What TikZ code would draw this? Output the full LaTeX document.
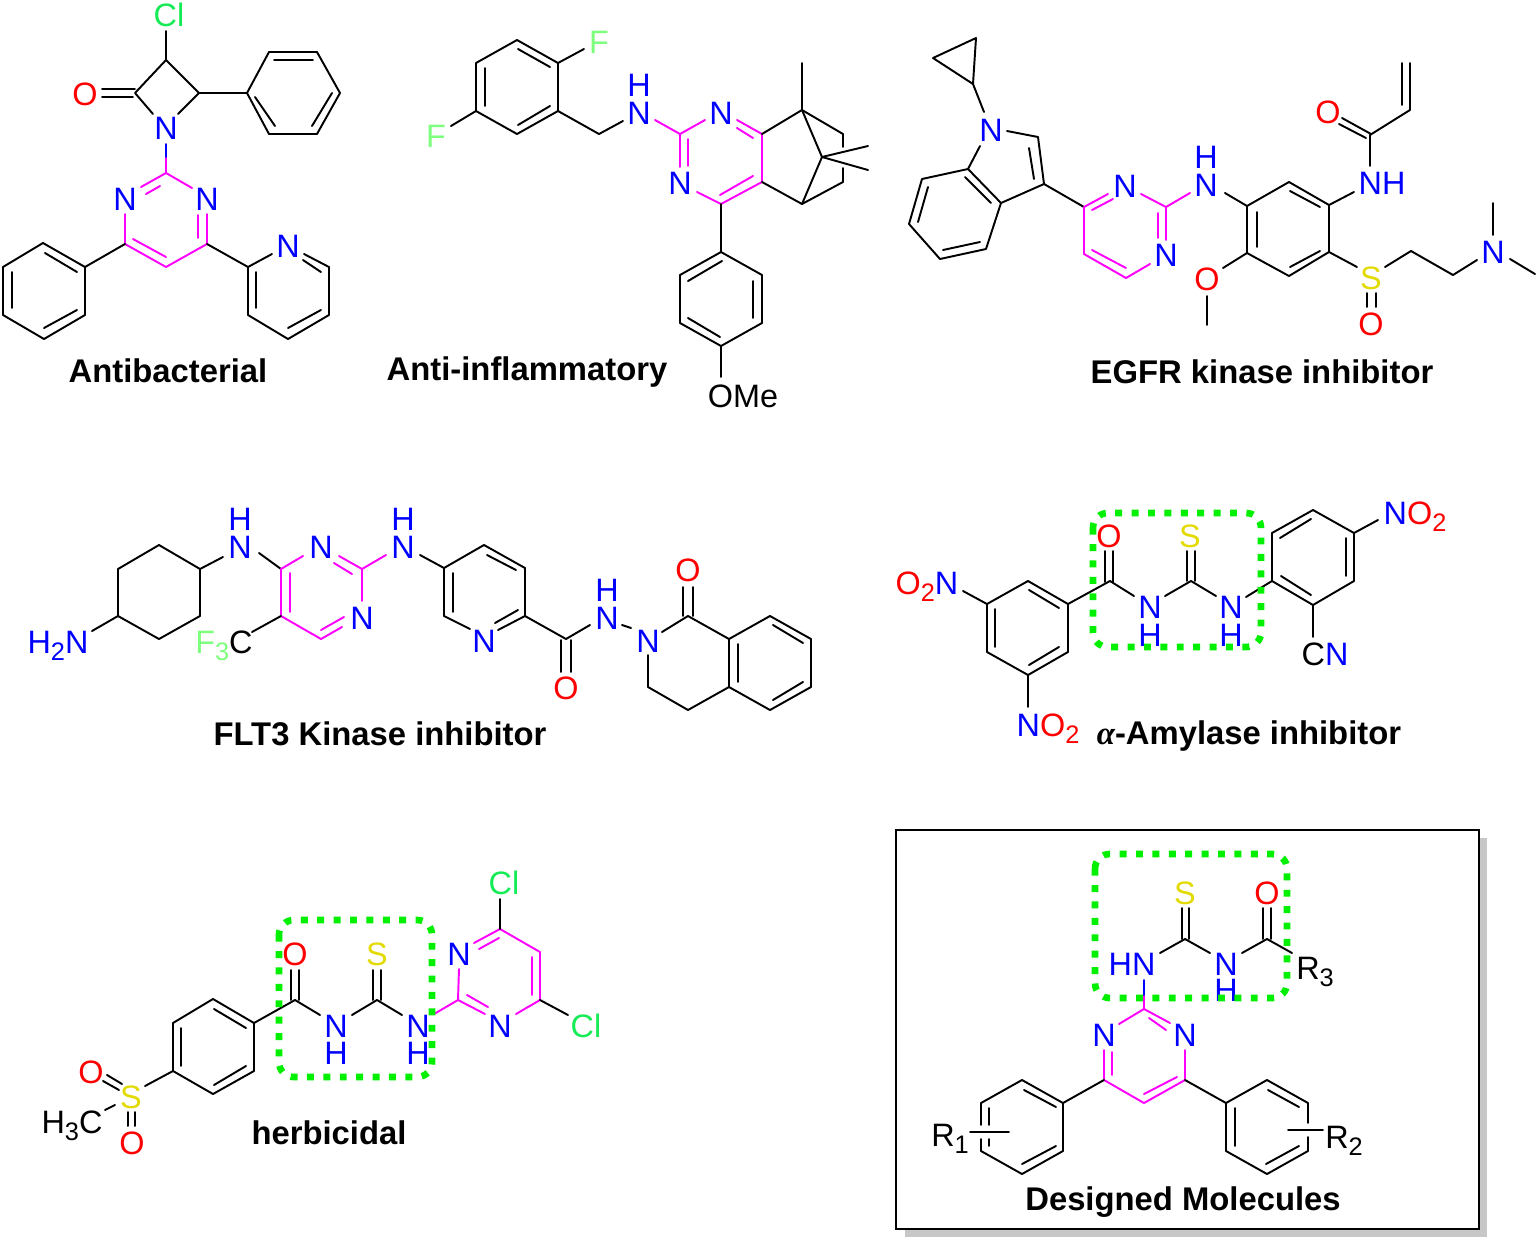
\documentclass[tikz,border=0pt]{standalone}
\usepackage{fontspec}
\setmainfont{Liberation Sans}
\definecolor{mgc}{RGB}{255,0,255}
\definecolor{nblue}{RGB}{0,0,255}
\definecolor{ored}{RGB}{255,0,0}
\definecolor{syel}{RGB}{226,218,0}
\definecolor{clg}{RGB}{20,235,85}
\definecolor{flg}{RGB}{125,255,125}
\definecolor{boxg}{RGB}{0,240,0}
\newfontfamily\serifalpha{Liberation Serif}
\newcommand{\Sbs}[1]{\raisebox{-5pt}{\fontsize{19}{19}\selectfont #1}}
\tikzset{
  bk/.style={draw=black,line width=1.45pt,line cap=round,line join=round},
  mg/.style={draw=mgc,line width=1.45pt,line cap=round,line join=round},
  bl/.style={draw=nblue,line width=1.45pt,line cap=round},
  atomK/.style={inner sep=0pt,text height=17pt,text depth=0pt,font=\fontsize{24.3}{24.3}\selectfont,text=black},
  atomN/.style={atomK,text=nblue},
  atomO/.style={atomK,text=ored},
  atomS/.style={atomK,text=syel},
  atomCl/.style={atomK,text=clg},
  atomF/.style={atomK,text=flg},
  titlenode/.style={inner sep=0pt,text height=17pt,text depth=0pt,font=\fontsize{24.6}{24.6}\selectfont\bfseries,text=black},
  greenbox/.style={draw=boxg,line width=5pt,rounded corners=11pt,dash pattern=on 5.2pt off 7.1pt}
}
\begin{document}
\begin{tikzpicture}[x=0.75pt,y=-0.75pt]
\useasboundingbox (0,0) rectangle (1536,1240);
% ===== Molecule 1: Antibacterial
\draw[bk] (166,31)--(166,60);
\draw[bk] (153,114)--(135,93)--(166,60)--(199,93)--(178,114);
\draw[bk] (102,89)--(135,89) (102,97)--(133,97);
\draw[bk] (199,93)--(247,93)--(269,52)--(317,52)--(340,93)--(317,134)--(269,134)--(247,93);
\draw[bk] (274,60)--(313,60) (332,93)--(312,126) (255,97)--(275,126);
\draw[bl] (166,144)--(166,158);
\draw[mg] (166,158)--(166,173);
\draw[mg] (141,187)--(166,173)--(192,188);
\draw[mg] (146,194)--(160,186);
\draw[mg] (125,214)--(125,244)--(166,267)--(207,244)--(207,214);
\draw[mg] (198,215)--(198,238) (133,239)--(166,257);
\draw[bk] (125,244)--(85,267)--(43,243)--(3,267)--(3,315)--(44,339)--(85,315)--(85,267);
\draw[bk] (45,253)--(77,272) (12,272)--(12,308) (44,328)--(77,310);
\draw[bk] (207,244)--(248,267)--(272,254) (304,254)--(329,267)--(329,315)--(288,339)--(248,315)--(248,267);
\draw[bk] (303,260)--(321,272) (256,272)--(256,308) (288,328)--(321,310);
\node[atomCl] (a1cl) at (169,15) {Cl};
\node[atomO] (a1o) at (85,94) {O};
\node[atomN] (a1n) at (166,128) {N};
\node[atomN] (a1n2) at (125,199) {N};
\node[atomN] (a1n3) at (207,199) {N};
\node[atomN] (a1n4) at (288,246) {N};
\node[titlenode] (t1) at (168,371) {Antibacterial};
% ===== Molecule 2: Anti-inflammatory
\draw[bk] (517,40)--(558,63)--(558,111)--(517,134)--(476,111)--(476,63)--cycle;
\draw[bk] (518,49)--(550,67) (550,106)--(518,125) (485,68)--(485,106);
\draw[bk] (558,63)--(584,49) (476,111)--(451,126);
\draw[bk] (558,111)--(599,134)--(623,121);
\draw[mg] (655,120)--(680,134)--(705,120);
\draw[mg] (737,120)--(762,134)--(762,182)--(721,204)--(697,192);
\draw[mg] (737,128)--(753,138) (720,195)--(753,176);
\draw[mg] (680,134)--(680,167) (688,139)--(688,166);
\draw[bk] (762,134)--(802,110)--(802,63);
\draw[bk] (762,182)--(802,204);
\draw[bk] (802,110)--(843,134)--(843,147);
\draw[bk] (843,168)--(843,182)--(802,204)--(822,157)--(802,110);
\draw[bk] (868,146)--(822,157)--(868,170);
\draw[bk] (721,204)--(721,252)--(762,275)--(762,323)--(721,346)--(680,323)--(680,275)--(721,252);
\draw[bk] (722,261)--(688,281) (753,281)--(753,318) (688,318)--(720,337);
\draw[bk] (721,346)--(721,377);
\node[atomF] (a2f1) at (599,42) {F};
\node[atomF] (a2f2) at (436,136) {F};
\node[atomN] (a2n) at (639,113) {N};
\node[atomN] (a2h) at (639,85) {H};
\node[atomN] (a2n2) at (721,113) {N};
\node[atomN] (a2n3) at (680,183) {N};
\node[atomK] (a2ome) at (743,396) {OMe};
\node[titlenode] (t2) at (527,369) {Anti-inflammatory};
% ===== Molecule 3: EGFR kinase inhibitor
\draw[bk] (976,38)--(933,58)--(973,84)--cycle;
\draw[bk] (973,84)--(984,112);
\draw[bk] (1007,131)--(1038,137)--(1044,184)--(1001,203)--(968,169)--(980,146);
\draw[bk] (1029,148)--(1034,179);
\draw[bk] (968,169)--(922,179)--(909,224)--(940,259)--(986,249)--(1001,203);
\draw[bk] (965,177)--(991,203) (928,187)--(918,222) (943,250)--(980,242);
\draw[bk] (1044,184)--(1084,207);
\draw[mg] (1108,194)--(1084,207)--(1084,254)--(1126,278)--(1150,264);
\draw[mg] (1092,210)--(1113,199) (1092,250)--(1126,268);
\draw[mg] (1141,194)--(1166,207)--(1166,240) (1158,213)--(1158,238);
\draw[mg] (1166,207)--(1190,193);
\draw[bk] (1225,193)--(1247,206)--(1289,182)--(1329,205)--(1329,252)--(1289,276)--(1247,253)--(1247,206);
\draw[bk] (1290,191)--(1320,207) (1257,212)--(1257,247) (1290,267)--(1320,251);
\draw[bk] (1329,205)--(1354,192) (1370,166)--(1370,135)--(1410,110)--(1410,63);
\draw[bk] (1402,63)--(1402,105);
\draw[bk] (1342,118)--(1371,134) (1339,124)--(1366,138);
\draw[bk] (1247,253)--(1223,268) (1207,296)--(1207,325);
\draw[bk] (1329,252)--(1357,267);
\draw[bk] (1367,293)--(1367,307) (1376,293)--(1376,307);
\draw[bk] (1385,267)--(1411,251)--(1453,275)--(1477,260);
\draw[bk] (1493,235)--(1493,203) (1510,259)--(1535,274);
\node[atomN] (a3n) at (991,130) {N};
\node[atomN] (a3n2) at (1125,186) {N};
\node[atomN] (a3n3) at (1166,255) {N};
\node[atomN] (a3n4) at (1206,185) {N};
\node[atomN] (a3h) at (1206,157) {H};
\node[atomN] (a3nh) at (1382,183) {NH};
\node[atomO] (a3o) at (1328,112) {O};
\node[atomO] (a3o2) at (1207,279) {O};
\node[atomS] (a3s) at (1371,278) {S};
\node[atomO] (a3o3) at (1371,324) {O};
\node[atomN] (a3n5) at (1493,252) {N};
\node[titlenode] (t3) at (1262,372) {EGFR kinase inhibitor};
% ===== Molecule 4: FLT3 Kinase inhibitor
\draw[bk] (159,545)--(200,569)--(200,616)--(159,639)--(118,616)--(118,569)--cycle;
\draw[bk] (118,616)--(92,631);
\draw[bk] (200,569)--(223,557) (259,553)--(281,569);
\draw[mg] (303,556)--(281,569)--(281,616)--(321,639)--(342,627);
\draw[mg] (339,556)--(362,569)--(362,601);
\draw[mg] (334,563)--(352,574) (290,573)--(290,612) (321,630)--(344,617);
\draw[bk] (281,616)--(252,632);
\draw[mg] (362,569)--(386,555);
\draw[bk] (420,555)--(444,568)--(484,545)--(525,568)--(525,616)--(498,630);
\draw[bk] (470,629)--(444,616)--(444,568);
\draw[bk] (487,555)--(516,570) (453,573)--(453,612) (495,623)--(518,610);
\draw[bk] (525,616)--(566,639)--(590,625);
\draw[bk] (561,640)--(561,672) (571,640)--(571,672);
\draw[bk] (622,625)--(631,628);
\draw[bk] (662,632)--(688,616)--(729,639);
\draw[bk] (683,616)--(683,587) (693,616)--(693,587);
\draw[bk] (648,655)--(648,687)--(688,710)--(729,687)--(729,639);
\draw[bk] (729,639)--(770,616)--(811,639)--(811,687)--(770,710)--(729,687);
\draw[bk] (773,625)--(803,643) (803,682)--(773,700) (738,644)--(738,682);
\node[atomN] (a4h2n) at (58,642) {H\Sbs{2}N};
\node[atomN] (a4n) at (240,547) {N};
\node[atomN] (a4h) at (240,519) {H};
\node[atomN] (a4n2) at (321,547) {N};
\node[atomN] (a4n3) at (362,618) {N};
\node[atomK] (a4cf) at (224,642) {\textcolor{flg}{F\Sbs{3}}C};
\node[atomN] (a4n4) at (403,547) {N};
\node[atomN] (a4h3) at (403,519) {H};
\node[atomN] (a4n5) at (484,641) {N};
\node[atomO] (a4o) at (566,688) {O};
\node[atomN] (a4n6) at (607,618) {N};
\node[atomN] (a4h4) at (607,590) {H};
\node[atomN] (a4n7) at (648,641) {N};
\node[atomO] (a4o2) at (688,570) {O};
\node[titlenode] (t4) at (380,734) {FLT3 Kinase inhibitor};
% ===== Molecule 5: alpha-Amylase inhibitor
\draw[bk] (1028,581)--(1068,604)--(1068,652)--(1028,675)--(987,652)--(987,604)--cycle;
\draw[bk] (1029,590)--(1059,608) (1059,647)--(1029,665) (995,609)--(995,647);
\draw[bk] (987,604)--(963,591) (1028,675)--(1028,707);
\draw[bk] (1068,604)--(1110,581)--(1134,596);
\draw[bk] (1105,582)--(1105,551) (1113,582)--(1113,551);
\draw[bk] (1165,596)--(1191,581)--(1216,596);
\draw[bk] (1187,581)--(1187,551) (1195,581)--(1195,551);
\draw[bk] (1246,597)--(1272,581)--(1272,533)--(1313,510)--(1354,533)--(1354,581)--(1313,605)--(1272,581);
\draw[bk] (1280,538)--(1311,519) (1346,538)--(1346,576) (1311,595)--(1281,576);
\draw[bk] (1354,533)--(1378,520) (1313,605)--(1313,637);
\node[atomK] (a5on) at (927,583) {\textcolor{ored}{O\Sbs{2}}\textcolor{nblue}{N}};
\node[atomK] (a5no) at (1048,725) {\textcolor{nblue}{N}\textcolor{ored}{O\Sbs{2}}};
\node[atomO] (a5o) at (1109,536) {O};
\node[atomN] (a5n) at (1150,607) {N};
\node[atomN] (a5h) at (1150,635) {H};
\node[atomS] (a5s) at (1190,536) {S};
\node[atomN] (a5n2) at (1231,607) {N};
\node[atomN] (a5h2) at (1231,635) {H};
\node[atomK] (a5no2) at (1415,513) {\textcolor{nblue}{N}\textcolor{ored}{O\Sbs{2}}};
\node[atomK] (a5cn) at (1325,654) {C\textcolor{nblue}{N}};
\node[titlenode] (t5) at (1249,733) {{\serifalpha\itshape α}-Amylase inhibitor};
\draw[greenbox] (1093,513) rectangle (1261,647);
% ===== Molecule 6: herbicidal
\draw[bk] (213,999)--(254,1023)--(254,1071)--(213,1094)--(173,1071)--(173,1023)--cycle;
\draw[bk] (214,1009)--(246,1028) (246,1066)--(214,1085) (181,1028)--(181,1066);
\draw[bk] (254,1023)--(295,1000)--(320,1015);
\draw[bk] (291,1000)--(291,970) (299,1000)--(299,970);
\draw[bk] (352,1015)--(377,1000)--(402,1015);
\draw[bk] (373,1000)--(373,970) (381,1000)--(381,970);
\draw[mg] (434,1014)--(458,1000)--(459,969);
\draw[mg] (474,943)--(500,929)--(540,952)--(540,1000)--(516,1014);
\draw[mg] (485,1014)--(458,1000);
\draw[mg] (467,995)--(488,1007) (479,949)--(499,938) (532,957)--(532,995);
\draw[bk] (500,929)--(500,899) (540,1000)--(568,1015);
\draw[bk] (173,1071)--(145,1086);
\draw[bk] (107,1075)--(122,1084) (103,1081)--(119,1090);
\draw[bk] (128,1112)--(128,1126) (135,1112)--(135,1126);
\draw[bk] (105,1110)--(115,1105);
\node[atomO] (a6o) at (295,954) {O};
\node[atomN] (a6n) at (336,1026) {N};
\node[atomN] (a6h) at (336,1053) {H};
\node[atomS] (a6s) at (377,954) {S};
\node[atomN] (a6n2) at (418,1026) {N};
\node[atomN] (a6h2) at (418,1053) {H};
\node[atomN] (a6n3) at (459,954) {N};
\node[atomN] (a6n4) at (500,1026) {N};
\node[atomCl] (a6cl) at (504,883) {Cl};
\node[atomCl] (a6cl2) at (586,1026) {Cl};
\node[atomS] (a6s2) at (131,1097) {S};
\node[atomO] (a6o2) at (91,1072) {O};
\node[atomO] (a6o3) at (132,1143) {O};
\node[atomK] (a6ch) at (72,1122) {H\Sbs{3}C};
\node[titlenode] (t6) at (329,1133) {herbicidal};
\draw[greenbox] (279,920) rectangle (432,1077);
% ===== Molecule 7: Designed Molecules
\fill[black!22] (905,838) rectangle (1487,1237);
\draw[draw=black,fill=white,line width=1.6pt] (896,830) rectangle (1479,1229);
\draw[mg] (1119,1024)--(1144,1009)--(1170,1023);
\draw[mg] (1149,1018)--(1166,1030);
\draw[mg] (1104,1050)--(1104,1080)--(1144,1103)--(1185,1080)--(1185,1050);
\draw[mg] (1112,1052)--(1112,1075) (1144,1094)--(1177,1077);
\draw[mg] (1144,1009)--(1144,995);
\draw[bl] (1144,995)--(1144,980);
\draw[bk] (1160,953)--(1185,939)--(1210,953);
\draw[bk] (1182,939)--(1182,908) (1189,939)--(1189,908);
\draw[bk] (1242,953)--(1267,939)--(1292,953);
\draw[bk] (1263,939)--(1263,908) (1271,939)--(1271,908);
\draw[bk] (1104,1080)--(1063,1103)--(1022,1080)--(981,1103)--(981,1125);
\draw[bk] (981,1139)--(981,1151)--(1022,1174)--(1063,1151)--(1063,1103);
\draw[bk] (1024,1090)--(1056,1107) (1056,1146)--(1022,1164) (989,1108)--(989,1125) (989,1139)--(989,1146);
\draw[bk] (970,1132)--(1009,1132);
\draw[bk] (1185,1080)--(1226,1103)--(1267,1080)--(1308,1103)--(1308,1123);
\draw[bk] (1308,1137)--(1308,1151)--(1267,1174)--(1226,1151)--(1226,1103);
\draw[bk] (1268,1090)--(1299,1107) (1235,1108)--(1235,1146) (1266,1164)--(1299,1146);
\draw[bk] (1288,1130)--(1323,1130);
\node[atomN] (a7n) at (1104,1035) {N};
\node[atomN] (a7n2) at (1185,1035) {N};
\node[atomN] (a7hn) at (1132,964) {HN};
\node[atomS] (a7s) at (1185,893) {S};
\node[atomN] (a7n3) at (1226,964) {N};
\node[atomN] (a7h) at (1226,990) {H};
\node[atomO] (a7o) at (1267,893) {O};
\node[atomK] (a7r3) at (1315,968) {R\Sbs{3}};
\node[atomK] (a7r1) at (950,1135) {R\Sbs{1}};
\node[atomK] (a7r2) at (1344,1137) {R\Sbs{2}};
\node[titlenode] (t7) at (1183,1199) {Designed Molecules};
\draw[greenbox] (1095,854) rectangle (1287,998);
\end{tikzpicture}
\end{document}
